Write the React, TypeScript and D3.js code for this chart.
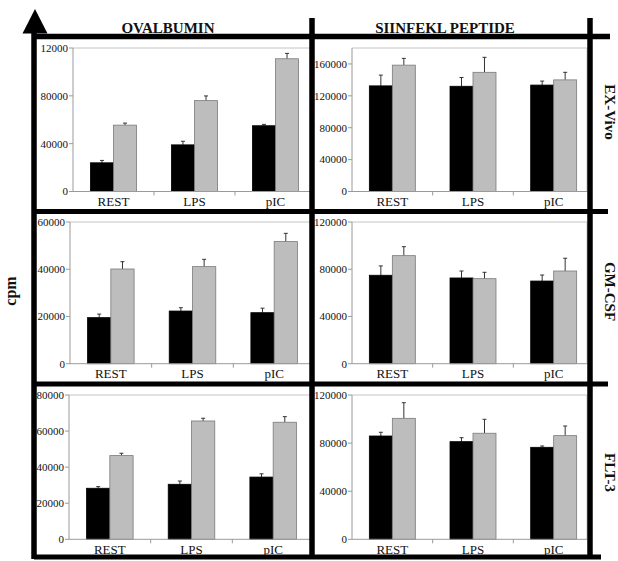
import React from "react";
import * as d3 from "d3";

const categories = ["REST", "LPS", "pIC"];
const columnTitles = ["OVALBUMIN", "SIINFEKL PEPTIDE"];
const rowTitles = ["EX-Vivo", "GM-CSF", "FLT-3"];
const yAxisTitle = "cpm";

// Ovalbumin
const ovaExVivoBlack = [24000, 39000, 55000];
const ovaExVivoBlackErr = [2000, 3000, 1100];
const ovaExVivoGrey = [55500, 76000, 111000];
const ovaExVivoGreyErr = [1700, 3900, 4500];
const ovaGmBlack = [19500, 22300, 21600];
const ovaGmBlackErr = [1500, 1400, 1900];
const ovaGmGrey = [40100, 41100, 51700];
const ovaGmGreyErr = [3100, 3100, 3500];
const ovaFltBlack = [28300, 30500, 34500];
const ovaFltBlackErr = [900, 1800, 1800];
const ovaFltGrey = [46400, 65600, 64900];
const ovaFltGreyErr = [1300, 1500, 3100];

// SIINFEKL peptide
const pepExVivoBlack = [132500, 132000, 133500];
const pepExVivoBlackErr = [13500, 11000, 5000];
const pepExVivoGrey = [158500, 149500, 140000];
const pepExVivoGreyErr = [8500, 18800, 9500];
const pepGmBlack = [74900, 72600, 70000];
const pepGmBlackErr = [7900, 5900, 5100];
const pepGmGrey = [91500, 72000, 78500];
const pepGmGreyErr = [7600, 5400, 10800];
const pepFltBlack = [85900, 81200, 76500];
const pepFltBlackErr = [3100, 3300, 1100];
const pepFltGrey = [100600, 88200, 86200];
const pepFltGreyErr = [13000, 11600, 8000];

// tick values and labels
const ticksOvaExVivo = [0, 40000, 80000, 120000];
const tickLabelsOvaExVivo = ["0", "40000", "80000", "12000"];
const ticksPepExVivo = [0, 40000, 80000, 120000, 160000];
const ticksOvaGm = [0, 20000, 40000, 60000];
const ticksPepGm = [0, 40000, 80000, 120000];
const ticksOvaFlt = [0, 20000, 40000, 60000, 80000];
const ticksPepFlt = [0, 40000, 80000, 120000];

const domainMax = [
  [120000, 180000],
  [60000, 120000],
  [80000, 120000],
];

const series = ["black", "grey"];

type PanelDef = {
  black: number[];
  blackErr: number[];
  grey: number[];
  greyErr: number[];
  ticks: number[];
  tickLabels?: string[];
  max: number;
  x0: number;
  x1: number;
  boxRight: number;
  yTop: number;
  yZero: number;
};

const FONT = "'Liberation Serif', 'DejaVu Serif', serif";
const AXIS = "#9a9a9a";

function Panel({ p }: { p: PanelDef }) {
  const x = d3.scaleBand().domain(categories).range([p.x0, p.x1]).padding(0);
  const bw = x.bandwidth();
  const xs = d3.scaleBand().domain(series).range([bw * 0.215, bw * 0.785]).padding(0);
  const y = d3.scaleLinear().domain([0, p.max]).range([p.yZero, p.yTop]);
  const bars: { cat: string; s: string; v: number; e: number }[] = [];
  categories.forEach((c, i) => {
    bars.push({ cat: c, s: "black", v: p.black[i], e: p.blackErr[i] });
    bars.push({ cat: c, s: "grey", v: p.grey[i], e: p.greyErr[i] });
  });
  return (
    <g>
      {/* box */}
      <line x1={p.x0} x2={p.boxRight} y1={p.yTop} y2={p.yTop} stroke="#c4c4c4" strokeWidth={1} />
      <line x1={p.boxRight} x2={p.boxRight} y1={p.yTop} y2={p.yZero} stroke="#c4c4c4" strokeWidth={1} />
      {/* bars */}
      {bars.map((b, i) => {
        const bx = (x(b.cat) as number) + (xs(b.s) as number);
        const w = xs.bandwidth();
        const cx = bx + w / 2;
        const yt = y(b.v);
        const ye = y(b.v + b.e);
        return (
          <g key={i}>
            <line x1={cx} x2={cx} y1={yt} y2={ye} stroke="#333" strokeWidth={1} />
            <line x1={cx - 2} x2={cx + 2} y1={ye} y2={ye} stroke="#333" strokeWidth={1} />
            <rect
              x={bx}
              y={yt}
              width={w}
              height={p.yZero - yt}
              fill={b.s === "black" ? "#000" : "#bdbdbd"}
              stroke={b.s === "black" ? "#000" : "#7a7a7a"}
              strokeWidth={0.8}
            />
          </g>
        );
      })}
      {/* y axis */}
      <line x1={p.x0} x2={p.x0} y1={p.yTop} y2={p.yZero} stroke={AXIS} strokeWidth={1} />
      {p.ticks.map((t, i) => (
        <g key={t}>
          <line x1={p.x0 - 4} x2={p.x0} y1={y(t)} y2={y(t)} stroke={AXIS} strokeWidth={1} />
          <text
            x={p.x0 - 5}
            y={y(t)}
            dy="0.35em"
            textAnchor="end"
            fontFamily={FONT}
            fontSize={11}
            fill="#111"
          >
            {p.tickLabels ? p.tickLabels[i] : String(t)}
          </text>
        </g>
      ))}
      {/* x axis */}
      <line x1={p.x0} x2={p.boxRight} y1={p.yZero} y2={p.yZero} stroke={AXIS} strokeWidth={1} />
      {categories.slice(1).map((c) => (
        <line
          key={c}
          x1={x(c) as number}
          x2={x(c) as number}
          y1={p.yZero}
          y2={p.yZero + 4}
          stroke={AXIS}
          strokeWidth={1}
        />
      ))}
      {categories.map((c) => (
        <text
          key={c}
          x={(x(c) as number) + bw / 2}
          y={p.yZero + 14.5}
          textAnchor="middle"
          fontFamily={FONT}
          fontSize={13}
          fill="#111"
        >
          {c}
        </text>
      ))}
    </g>
  );
}

export default function App() {
  const rowsY = [
    [48, 191.5],
    [222, 363.7],
    [395, 539.3],
  ];
  const leftX = [
    [73, 316],
    [70, 315],
    [69, 314],
  ];
  const panels: PanelDef[] = [
    {
      black: ovaExVivoBlack, blackErr: ovaExVivoBlackErr, grey: ovaExVivoGrey, greyErr: ovaExVivoGreyErr,
      ticks: ticksOvaExVivo, tickLabels: tickLabelsOvaExVivo, max: domainMax[0][0],
      x0: leftX[0][0], x1: leftX[0][1], boxRight: 312, yTop: rowsY[0][0], yZero: rowsY[0][1],
    },
    {
      black: pepExVivoBlack, blackErr: pepExVivoBlackErr, grey: pepExVivoGrey, greyErr: pepExVivoGreyErr,
      ticks: ticksPepExVivo, max: domainMax[0][1],
      x0: 352, x1: 594, boxRight: 587, yTop: rowsY[0][0], yZero: rowsY[0][1],
    },
    {
      black: ovaGmBlack, blackErr: ovaGmBlackErr, grey: ovaGmGrey, greyErr: ovaGmGreyErr,
      ticks: ticksOvaGm, max: domainMax[1][0],
      x0: leftX[1][0], x1: leftX[1][1], boxRight: 312, yTop: rowsY[1][0], yZero: rowsY[1][1],
    },
    {
      black: pepGmBlack, blackErr: pepGmBlackErr, grey: pepGmGrey, greyErr: pepGmGreyErr,
      ticks: ticksPepGm, max: domainMax[1][1],
      x0: 352, x1: 594, boxRight: 587, yTop: rowsY[1][0], yZero: rowsY[1][1],
    },
    {
      black: ovaFltBlack, blackErr: ovaFltBlackErr, grey: ovaFltGrey, greyErr: ovaFltGreyErr,
      ticks: ticksOvaFlt, max: domainMax[2][0],
      x0: leftX[2][0], x1: leftX[2][1], boxRight: 312, yTop: rowsY[2][0], yZero: rowsY[2][1],
    },
    {
      black: pepFltBlack, blackErr: pepFltBlackErr, grey: pepFltGrey, greyErr: pepFltGreyErr,
      ticks: ticksPepFlt, max: domainMax[2][1],
      x0: 352, x1: 594, boxRight: 587, yTop: rowsY[2][0], yZero: rowsY[2][1],
    },
  ];
  const TH = 5.5;
  const rowCenters = [112, 291.5, 472.5];
  return (
    <svg
      width={618}
      height={561}
      style={{ position: "absolute", left: 0, top: 0, background: "#fff" }}
    >
      <rect x={0} y={0} width={618} height={561} fill="#fff" />
      {panels.map((p, i) => (
        <Panel key={i} p={p} />
      ))}
      {/* thick frame */}
      <g stroke="#000" strokeWidth={TH} fill="none">
        <line x1={34} x2={34} y1={30} y2={559} />
        <line x1={34} x2={610} y1={36.5} y2={36.5} />
        <line x1={312} x2={312} y1={18} y2={559} />
        <line x1={590} x2={590} y1={18} y2={559} />
        <line x1={34} x2={608} y1={211.5} y2={211.5} strokeWidth={5} />
        <line x1={34} x2={608} y1={384} y2={384} strokeWidth={5} />
        <line x1={34} x2={601} y1={557} y2={557} strokeWidth={5} />
      </g>
      <path d="M22.5,33.5 L47.5,33.5 L35,9 Z" fill="#000" />
      {/* column titles */}
      <text x={168} y={33} textAnchor="middle" fontFamily={FONT} fontWeight="bold" fontSize={15} fill="#111">
        {columnTitles[0]}
      </text>
      <text x={445} y={33} textAnchor="middle" fontFamily={FONT} fontWeight="bold" fontSize={15} fill="#111">
        {columnTitles[1]}
      </text>
      {/* row titles */}
      {rowTitles.map((t, i) => (
        <text
          key={t}
          transform={`translate(605,${rowCenters[i]}) rotate(90)`}
          textAnchor="middle"
          fontFamily={FONT}
          fontWeight="bold"
          fontSize={15}
          fill="#111"
        >
          {t}
        </text>
      ))}
      <text
        transform="translate(16,291) rotate(-90)"
        textAnchor="middle"
        fontFamily={FONT}
        fontWeight="bold"
        fontSize={16}
        fill="#111"
      >
        {yAxisTitle}
      </text>
    </svg>
  );
}
